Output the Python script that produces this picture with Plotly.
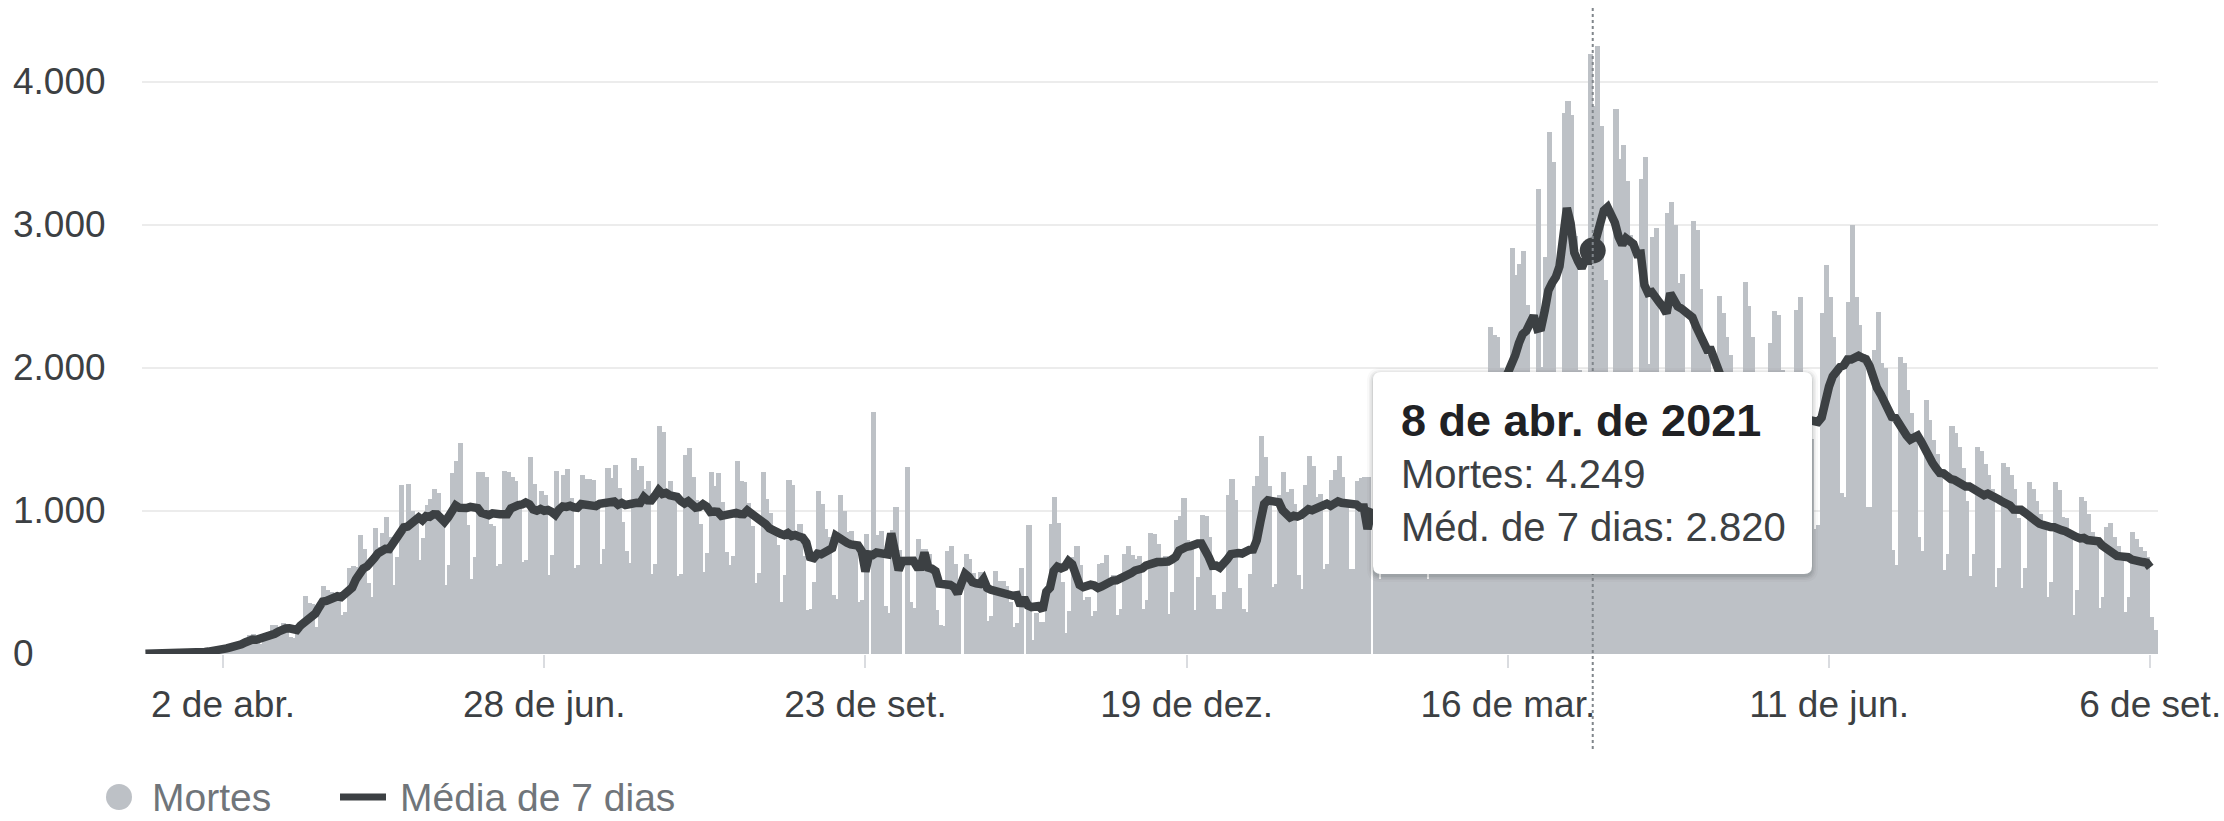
import pandas as pd
import plotly.graph_objects as go

# ---------------- data (daily deaths) ----------------
START_DATE = "2020-03-12"
deaths_2020_03 = [0, 0, 0, 0, 0, 1, 3, 3, 4, 7, 7, 9, 12, 11, 20, 15, 22, 22, 23, 42]
deaths_2020_04 = [40, 58, 60, 73, 54, 67, 114, 133, 141, 115, 68, 99, 105, 204, 204, 188, 217, 206, 115, 113,
                  166, 165, 407, 357, 346, 189, 338, 474, 449, 435]
deaths_2020_05 = [428, 421, 275, 296, 600, 615, 610, 830, 730, 496, 396, 881, 749, 844, 960, 816, 485, 674, 1179, 888,
                  1188, 1001, 965, 653, 807, 1039, 1086, 1156, 1124, 956, 480]
deaths_2020_06 = [623, 1262, 1349, 1473, 1005, 904, 525, 679, 1272, 1274, 1239, 909, 892, 612, 627, 1282, 1269, 1238,
                  1206, 1022, 641, 654, 1374, 1185, 990, 1141, 1109, 552, 692, 1280]
deaths_2020_07 = [1038, 1252, 1290, 1091, 602, 620, 1254, 1223, 1220, 1214, 1071, 631, 733, 1300, 1233, 1322, 1163,
                  921, 716, 632, 1367, 1284, 1311, 1156, 1211, 555, 627, 1595, 1554, 1129, 1212]
deaths_2020_08 = [1088, 541, 561, 1394, 1437, 1237, 1079, 905, 572, 703, 1274, 1175, 1262, 1060, 709, 620, 684, 1352,
                  1212, 1204, 1054, 892, 494, 565, 1271, 1085, 984, 855, 758, 366, 553]
deaths_2020_09 = [1215, 1184, 834, 907, 682, 310, 315, 504, 1136, 1050, 874, 814, 415, 381, 1113, 1000, 855, 858, 739,
                  363, 377, 836, 0, 1690, 831, 860, 335, 286, 863, 1030]
deaths_2020_10 = [729, 0, 1305, 363, 323, 804, 734, 730, 697, 571, 309, 201, 192, 716, 754, 630, 461, 0, 700, 660,
                  566, 497, 571, 432, 231, 263, 576, 510, 513, 478, 363]
deaths_2020_11 = [190, 215, 600, 0, 902, 100, 284, 226, 226, 400, 905, 1100, 914, 500, 145, 300, 676, 754, 618, 380,
                  396, 263, 302, 630, 638, 691, 502, 554, 271, 317]
deaths_2020_12 = [697, 755, 694, 664, 681, 313, 376, 842, 839, 770, 672, 686, 279, 433, 936, 964, 1092, 797, 741, 306,
                  538, 968, 963, 814, 412, 314, 317, 431, 1111, 1224, 1074]
deaths_2021_01 = [462, 314, 293, 555, 1171, 1242, 1524, 1379, 1171, 469, 490, 1110, 1274, 1131, 1151, 1050, 551, 452,
                  1183, 1382, 1316, 1096, 1119, 592, 627, 1214, 1283, 1386, 1239, 1054, 595]
deaths_2021_02 = [595, 1209, 1232, 1240, 1239, 0, 1390, 527, 1350, 1330, 1351, 1239, 1054, 563, 583, 639, 1209, 1367,
                  1337, 1212, 527, 639, 1386, 1428, 1541, 1337, 1275, 721]
deaths_2021_03 = [778, 1641, 1840, 1699, 1800, 1555, 1054, 987, 1972, 2286, 2233, 2216, 1997, 1127, 1057, 2841, 2648,
                  2724, 2815, 2438, 1290, 1383, 3251, 2009, 2777, 3650, 3438, 1656, 1660, 3780, 3869]
deaths_2021_04 = [3769, 2922, 1987, 1240, 1319, 4195, 3829, 4249, 3693, 2616, 1803, 1480, 3808, 3459, 3560, 3305, 2929,
                  1657, 1347, 3321, 3472, 2027, 2914, 2976, 1305, 1202, 3086, 3163, 3001, 2595]
deaths_2021_05 = [2656, 1202, 1024, 3025, 2966, 2550, 2202, 2091, 1026, 1018, 2500, 2383, 2217, 2087, 1875, 1036, 1000,
                  2600, 2430, 2217, 1900, 1847, 860, 834, 2173, 2400, 2370, 1982, 1969, 860, 957]
deaths_2021_06 = [2405, 2498, 1500, 1700, 1500, 870, 900, 2382, 2720, 2498, 2217, 2000, 1125, 1100, 2464, 3000, 2498,
                  2301, 2100, 1030, 1030, 2126, 2393, 2033, 1998, 1700, 727, 622, 2077, 2033]
deaths_2021_07 = [1847, 1683, 1500, 820, 720, 1777, 1637, 1497, 1400, 1240, 588, 700, 1590, 1543, 1450, 1300, 1072,
                  541, 700, 1450, 1420, 1330, 1250, 1150, 471, 600, 1333, 1310, 1250, 1150, 950]
deaths_2021_08 = [459, 600, 1203, 1156, 1072, 979, 900, 400, 500, 1203, 1145, 956, 950, 850, 272, 450, 1100, 1072, 979,
                  850, 795, 319, 400, 890, 914, 820, 751, 700, 295, 400, 850]
deaths_2021_09 = [800, 750, 720, 680, 261, 168]

deaths = (deaths_2020_03 + deaths_2020_04 + deaths_2020_05 + deaths_2020_06 + deaths_2020_07 + deaths_2020_08 +
          deaths_2020_09 + deaths_2020_10 + deaths_2020_11 + deaths_2020_12 + deaths_2021_01 + deaths_2021_02 +
          deaths_2021_03 + deaths_2021_04 + deaths_2021_05 + deaths_2021_06 + deaths_2021_07 + deaths_2021_08 +
          deaths_2021_09)

x_tick_dates = ["2020-04-02", "2020-06-28", "2020-09-23", "2020-12-19", "2021-03-16", "2021-06-11", "2021-09-06"]
x_tick_text = ["2 de abr.", "28 de jun.", "23 de set.", "19 de dez.", "16 de mar.", "11 de jun.", "6 de set."]
y_tick_values = [0, 1000, 2000, 3000, 4000]
y_tick_text = ["0", "1.000", "2.000", "3.000", "4.000"]
highlight_date = "2021-04-08"
series_names = ["Mortes", "Média de 7 dias"]
tooltip_labels = ["Mortes", "Méd. de 7 dias"]
month_abbr_pt = ["jan.", "fev.", "mar.", "abr.", "mai.", "jun.", "jul.", "ago.", "set.", "out.", "nov.", "dez."]

# ---------------- derived series ----------------
dates = pd.date_range(START_DATE, periods=len(deaths), freq="D")
avg7 = pd.Series(deaths, index=dates, dtype=float).rolling(7, min_periods=1).mean()

# ---------------- geometry / style ----------------
W, H = 2224, 821
L, R, T, B = 142, 2158, 20, 654
PX_PER_DAY = 3.692
TICK0_PX = 223
PX_PER_UNIT = 0.143
FONT = "Arial, 'Liberation Sans', sans-serif"
BAR_COLOR = "#bdc1c6"
LINE_COLOR = "#3c4043"
AXIS_FONT_SIZE = 37
TIP_FONT_SIZE = 40
TIP_TITLE_SIZE = 45
LEGEND_FONT_SIZE = 39

DAY = pd.Timedelta(days=1)
tick0 = pd.Timestamp(x_tick_dates[0])
x_min = tick0 - (TICK0_PX - L) / PX_PER_DAY * DAY
x_max = tick0 + (R - TICK0_PX) / PX_PER_DAY * DAY
y_min = -1.0
y_max = (B - T) / PX_PER_UNIT + y_min


def pxx(px):
    return (px - L) / (R - L)


def pxy(py):
    return (B - py) / (B - T)


def date_to_px(d):
    return L + (pd.Timestamp(d) - x_min) / (x_max - x_min) * (R - L)


bar_x = dates + 1.3 * DAY
bar_w = 1.4 * 86400000

fig = go.Figure()
fig.add_trace(go.Bar(x=bar_x, y=deaths, width=[bar_w] * len(deaths),
                     marker=dict(color=BAR_COLOR, line=dict(width=0)), hoverinfo="skip", name=series_names[0]))
fig.add_trace(go.Scatter(x=dates, y=avg7.values, mode="lines", name=series_names[1],
                         line=dict(color=LINE_COLOR, width=8.5), hoverinfo="skip"))

hd = pd.Timestamp(highlight_date)
hd_avg = float(avg7[hd])
hd_deaths = int(deaths[dates.get_loc(hd)])
fig.add_trace(go.Scatter(x=[hd], y=[hd_avg], mode="markers", marker=dict(size=26, color=LINE_COLOR),
                         hoverinfo="skip", showlegend=False))

shapes = []
annotations = []

# hover guide line
hx = pxx(date_to_px(hd))
shapes.append(dict(type="line", xref="paper", yref="paper", x0=hx, x1=hx, y0=pxy(749), y1=pxy(7),
                   line=dict(color="#80868b", width=2, dash="dot"), layer="above"))


def rounded_rect(x0, y0, x1, y1, r):
    pts = [
        ("M", x0 + r, y0), ("L", x1 - r, y0), ("Q", x1, y0, x1, y0 + r), ("L", x1, y1 - r),
        ("Q", x1, y1, x1 - r, y1), ("L", x0 + r, y1), ("Q", x0, y1, x0, y1 - r), ("L", x0, y0 + r),
        ("Q", x0, y0, x0 + r, y0),
    ]
    out = []
    for p in pts:
        if p[0] == "Q":
            out.append(f"Q{pxx(p[1]):.6f},{pxy(p[2]):.6f} {pxx(p[3]):.6f},{pxy(p[4]):.6f}")
        else:
            out.append(f"{p[0]}{pxx(p[1]):.6f},{pxy(p[2]):.6f}")
    return " ".join(out) + " Z"


# tooltip box with soft shadow
tx0, ty0, tx1, ty1 = 1373, 372, 1812, 574
for grow, alpha in [(6, 0.03), (4, 0.05), (2.5, 0.07), (1, 0.10)]:
    shapes.append(dict(type="path", xref="paper", yref="paper",
                       path=rounded_rect(tx0 - grow, ty0 - grow + 2, tx1 + grow, ty1 + grow + 2, 8 + grow),
                       fillcolor=f"rgba(60,64,67,{alpha})", line=dict(width=0), layer="above"))
shapes.append(dict(type="path", xref="paper", yref="paper", path=rounded_rect(tx0, ty0, tx1, ty1, 8),
                   fillcolor="white", line=dict(width=0), layer="above"))


def fmt(v):
    return f"{int(round(v)):,}".replace(",", ".")


title = f"{hd.day} de {month_abbr_pt[hd.month - 1]} de {hd.year}"
tip_lines = [
    (f"<b>{title}</b>", 420, "#202124", TIP_TITLE_SIZE),
    (f"{tooltip_labels[0]}: {fmt(hd_deaths)}", 474, "#3c4043", TIP_FONT_SIZE),
    (f"{tooltip_labels[1]}: {fmt(hd_avg)}", 527, "#3c4043", TIP_FONT_SIZE),
]
for txt, py, col, fs in tip_lines:
    annotations.append(dict(xref="paper", yref="paper", x=pxx(1399), y=pxy(py), text=txt, showarrow=False,
                            xanchor="left", yanchor="middle", font=dict(family=FONT, size=fs, color=col)))

# y tick labels (left aligned)
for v, t in zip(y_tick_values, y_tick_text):
    annotations.append(dict(xref="paper", yref="y", x=pxx(11), y=v, text=t, showarrow=False,
                            xanchor="left", yanchor="middle",
                            font=dict(family=FONT, size=AXIS_FONT_SIZE, color="#3c4043")))

# legend
ly = 797
shapes.append(dict(type="circle", xref="paper", yref="paper", x0=pxx(106), x1=pxx(132), y0=pxy(ly + 13),
                   y1=pxy(ly - 13), fillcolor=BAR_COLOR, line=dict(width=0), layer="above"))
annotations.append(dict(xref="paper", yref="paper", x=pxx(151), y=pxy(ly), text=series_names[0], showarrow=False,
                        xanchor="left", yanchor="middle", borderpad=0,
                        font=dict(family=FONT, size=LEGEND_FONT_SIZE, color="#70757a")))
shapes.append(dict(type="line", xref="paper", yref="paper", x0=pxx(340), x1=pxx(386), y0=pxy(ly), y1=pxy(ly),
                   line=dict(color=LINE_COLOR, width=7), layer="above"))
annotations.append(dict(xref="paper", yref="paper", x=pxx(399), y=pxy(ly), text=series_names[1], showarrow=False,
                        xanchor="left", yanchor="middle", borderpad=0,
                        font=dict(family=FONT, size=LEGEND_FONT_SIZE, color="#70757a")))

fig.update_layout(
    template="none",
    width=W, height=H, margin=dict(l=L, r=W - R, t=T, b=H - B, pad=0, autoexpand=False),
    plot_bgcolor="white", paper_bgcolor="white", showlegend=False, hovermode=False,
    bargap=0, barmode="overlay",
    font=dict(family=FONT, color="#3c4043"),
    xaxis=dict(type="date", range=[x_min, x_max], tickvals=x_tick_dates, ticktext=x_tick_text, automargin=False,
               ticks="outside", ticklen=13, tickwidth=2, tickcolor="#dadce0", showgrid=False, zeroline=False,
               showline=False, tickfont=dict(family=FONT, size=AXIS_FONT_SIZE, color="#3c4043"),
               ticklabelstandoff=5),
    yaxis=dict(range=[y_min, y_max], tickvals=y_tick_values, showticklabels=False, showgrid=True, automargin=False,
               gridcolor="#ececec", gridwidth=2, zeroline=False, showline=False, ticks=""),
    shapes=shapes, annotations=annotations,
)

fig.write_html("out.html", include_plotlyjs=True, full_html=True, config={"displayModeBar": False},
               post_script="document.body.style.margin='0px';")
